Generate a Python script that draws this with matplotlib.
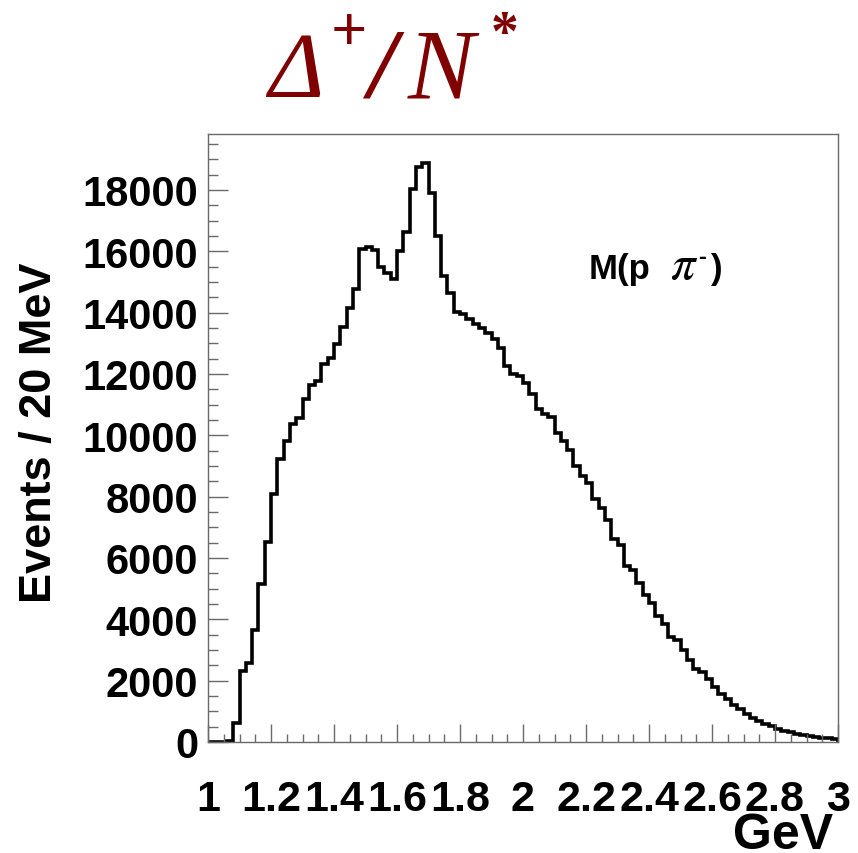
import numpy as np
import matplotlib

matplotlib.use("Agg")
import matplotlib.pyplot as plt
from matplotlib.ticker import MultipleLocator, FuncFormatter

# histogram: M(p pi-) in 20 MeV bins from 1 to 3 GeV
mass_lo = 1.0
mass_hi = 3.0
events = [
    0, 0, 0, 30, 620, 2330, 2570, 3660, 5150, 6510,
    8080, 9240, 9800, 10360, 10560, 11170, 11640, 11770, 12340, 12510,
    12970, 13530, 14140, 14760, 16060, 16130, 16030, 15500, 15280, 15100,
    16000, 16640, 18040, 18740, 18880, 17900, 16490, 15190, 14650, 14010,
    13950, 13780, 13630, 13510, 13350, 13130, 12840, 12270, 11990, 11940,
    11720, 11340, 10850, 10710, 10600, 10090, 9810, 9520, 9010, 8680,
    8430, 7920, 7620, 7240, 6620, 6430, 5750, 5610, 5180, 4800,
    4520, 4120, 3850, 3420, 3310, 3000, 2660, 2380, 2270, 2050,
    1780, 1560, 1390, 1210, 1060, 920, 790, 700, 590, 510,
    420, 360, 310, 270, 220, 190, 160, 140, 115, 95,
]
x_major = [1.0, 1.2, 1.4, 1.6, 1.8, 2.0, 2.2, 2.4, 2.6, 2.8, 3.0]
y_major = [0, 2000, 4000, 6000, 8000, 10000, 12000, 14000, 16000, 18000]

plt.rcParams["mathtext.fontset"] = "stix"

W, H = 858, 854
fig = plt.figure(figsize=(W / 100, H / 100), dpi=100, facecolor="white")
ax = fig.add_axes([208 / W, (H - 743) / H, 630 / W, 608 / H])

edges = np.linspace(mass_lo, mass_hi, len(events) + 1)
ax.stairs(events, edges, color="black", linewidth=2.6)

ax.set_xlim(mass_lo, mass_hi)
ax.set_ylim(0, max(events) * 1.05)

frame_col = "#6a6a6a"
for side in ("top", "right", "bottom", "left"):
    ax.spines[side].set_color(frame_col)
    ax.spines[side].set_linewidth(1.0)

ax.set_xticks(x_major)
ax.set_yticks(y_major)
ax.xaxis.set_minor_locator(MultipleLocator(0.05))
ax.yaxis.set_minor_locator(MultipleLocator(500))
ax.xaxis.set_major_formatter(FuncFormatter(lambda v, p: f"{v:g}"))
ax.yaxis.set_major_formatter(FuncFormatter(lambda v, p: f"{v:g}"))

ax.tick_params(axis="x", which="major", direction="in", length=13, width=1,
               color=frame_col, pad=27)
ax.tick_params(axis="x", which="minor", direction="in", length=6, width=1,
               color=frame_col)
ax.tick_params(axis="y", which="major", direction="in", length=14.5, width=1,
               color=frame_col, pad=7)
ax.tick_params(axis="y", which="minor", direction="in", length=7, width=1,
               color=frame_col)

for lab in ax.get_xticklabels():
    lab.set_fontfamily("Liberation Sans")
    lab.set_fontweight("bold")
    lab.set_fontsize(31)
for lab in ax.get_yticklabels():
    lab.set_fontfamily("Liberation Sans")
    lab.set_fontweight("bold")
    lab.set_fontsize(30)

sans = "Liberation Sans"
fig.text(40 / W, 1 - 433 / H, "Events / 20 MeV", rotation=90, ha="center",
         va="center", fontsize=32.5, fontweight="bold", family=sans)
fig.text(833 / W, 1 - 849 / H, "GeV", ha="right", va="baseline",
         fontsize=36, fontweight="bold", family=sans)

# label M(p pi-)
lab_base = 1 - 279 / H
fig.text(589 / W, lab_base, "M(p", ha="left", va="baseline",
         fontsize=25, fontweight="bold", family=sans)
fig.text(670 / W, lab_base, r"$\pi$", ha="left", va="baseline",
         fontsize=35)
fig.text(698 / W, 1 - 264 / H, "-", ha="left", va="baseline",
         fontsize=17, fontweight="bold", family=sans)
fig.text(711 / W, lab_base, ")", ha="left", va="baseline",
         fontsize=25, fontweight="bold", family=sans)

# title  Delta+ / N*
red = "#800000"
serif = "Liberation Serif"
base = 1 - 97 / H
fig.text(268 / W, base, "\u0394", ha="left", va="baseline", fontsize=68,
         style="italic", color=red, family=serif)
fig.text(331 / W, 1 - 50 / H, "+", ha="left", va="baseline", fontsize=46,
         fontweight="bold", color=red, family=serif)
fig.text(368 / W, base, "/", ha="left", va="baseline", fontsize=72,
         style="italic", fontweight="bold", color=red, family=serif)
fig.text(408 / W, base, "N", ha="left", va="baseline", fontsize=72,
         style="italic", color=red, family=serif)
fig.text(491 / W, 1 - 50 / H, "*", ha="left", va="baseline", fontsize=40,
         fontweight="bold", color=red, family=serif)

fig.savefig("out.png", dpi=100)
